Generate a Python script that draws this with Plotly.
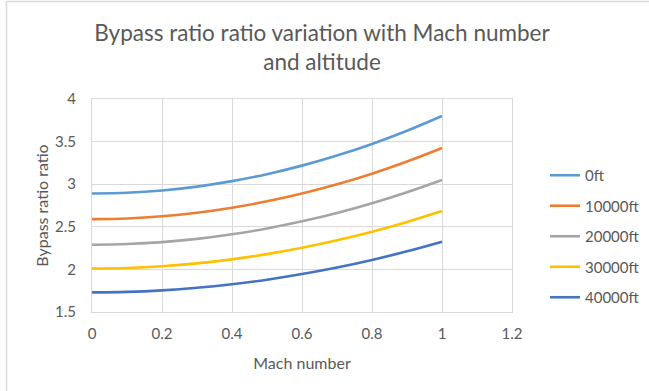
import plotly.graph_objects as go

mach = [0.0, 0.1, 0.2, 0.3, 0.4, 0.5, 0.6, 0.7, 0.8, 0.9, 1.0]
bpr_0ft = [2.89, 2.899, 2.926, 2.972, 3.036, 3.118, 3.218, 3.336, 3.472, 3.627, 3.80]
bpr_10000ft = [2.59, 2.598, 2.623, 2.665, 2.724, 2.799, 2.891, 2.999, 3.124, 3.266, 3.425]
bpr_20000ft = [2.29, 2.298, 2.32, 2.358, 2.412, 2.48, 2.564, 2.662, 2.776, 2.906, 3.05]
bpr_30000ft = [2.01, 2.017, 2.037, 2.071, 2.118, 2.179, 2.253, 2.341, 2.442, 2.557, 2.685]
bpr_40000ft = [1.73, 1.736, 1.754, 1.784, 1.826, 1.879, 1.945, 2.022, 2.111, 2.212, 2.325]

series_names = ["0ft", "10000ft", "20000ft", "30000ft", "40000ft"]
series_values = [bpr_0ft, bpr_10000ft, bpr_20000ft, bpr_30000ft, bpr_40000ft]
colors = ["#5B9BD5", "#ED7D31", "#A5A5A5", "#FFC000", "#4472C4"]

FONT = "Lato"
TXT = "#595959"

fig = go.Figure()
for name, vals, c in zip(series_names, series_values, colors):
    fig.add_trace(go.Scatter(
        x=mach, y=vals, name=name, mode="lines",
        line=dict(color=c, width=2.6, shape="spline", smoothing=1.0),
        legendgroup=name,
    ))

W, H = 649, 391
L, R, T, B = 92, 137, 99, 79
pw = W - L - R
ph = H - T - B

fig.update_layout(
    width=W, height=H,
    margin=dict(l=L, r=R, t=T, b=B, autoexpand=False),
    paper_bgcolor="white", plot_bgcolor="white",
    font=dict(family=FONT, color=TXT, size=15),
    title=dict(
        text="Bypass ratio ratio variation with Mach number<br>and altitude",
        x=322 / W, xanchor="center", xref="container",
        y=1 - 41 / H, yanchor="middle", yref="container",
        font=dict(family=FONT, size=22.5, color=TXT),
    ),
    xaxis=dict(
        range=[0, 1.2], dtick=0.2, tick0=0,
        showgrid=True, gridcolor="#D9D9D9", gridwidth=1,
        zeroline=False, showline=True, linecolor="#D9D9D9", mirror=True,
        ticks="", ticklabelstandoff=8, automargin=False,
        tickfont=dict(size=15, color=TXT, family=FONT),
        title=dict(text="Mach number", font=dict(size=16, color=TXT, family=FONT), standoff=16),
    ),
    yaxis=dict(
        range=[1.5, 4], dtick=0.5, tick0=1.5,
        showgrid=True, gridcolor="#D9D9D9", gridwidth=1,
        zeroline=False, showline=True, linecolor="#D9D9D9", mirror=True,
        ticks="", ticklabelstandoff=12, automargin=False,
        tickfont=dict(size=15, color=TXT, family=FONT),
        title=dict(text="Bypass ratio ratio", font=dict(size=16, color=TXT, family=FONT), standoff=2),
    ),
    legend=dict(
        x=(545 - L) / pw, xanchor="left",
        y=1 - (159 - T) / ph, yanchor="top",
        font=dict(size=15, color=TXT, family=FONT),
        tracegroupgap=8,
        bgcolor="rgba(0,0,0,0)",
        itemwidth=30,
    ),
    showlegend=True,
)

# outer chart-area border (left and top edges visible)
fig.add_shape(type="line", xref="paper", yref="paper",
              x0=(6.5 - L) / pw, x1=(6.5 - L) / pw,
              y0=-B / ph - 0.1, y1=1 + (T - 1.5) / ph,
              line=dict(color="#D9D9D9", width=1.5))
fig.add_shape(type="line", xref="paper", yref="paper",
              x0=(6.5 - L) / pw, x1=(W + 5 - L) / pw,
              y0=1 + (T - 1.5) / ph, y1=1 + (T - 1.5) / ph,
              line=dict(color="#D9D9D9", width=1.5))

fig.write_html("out.html")
